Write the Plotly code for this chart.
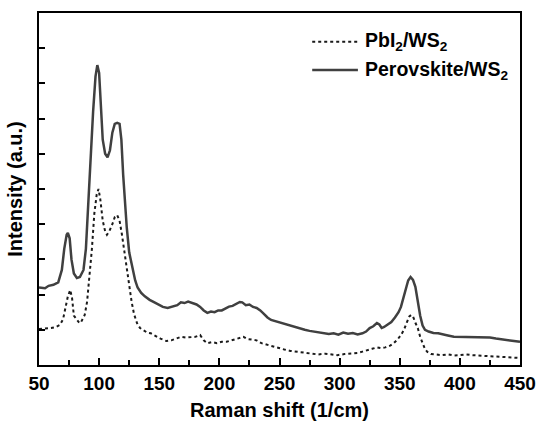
import plotly.graph_objects as go

# Raman shift (1/cm) and intensity (a.u.)
x_pero = [50, 55, 58, 62, 66, 69, 71, 73, 74, 75.5, 77, 79, 81.5, 84, 87, 89, 91, 93, 95, 97, 98.5, 100,
          101.5, 103, 105, 107, 109, 111, 113, 115, 117, 118.5, 120, 121.5, 123, 125, 127.5, 130, 132, 135,
          138, 142, 146, 150, 153, 157, 161, 165, 168, 171, 174, 178, 181, 184, 187, 190, 193, 196, 199,
          202, 205, 208, 211, 214, 217, 219, 222, 225, 228, 231, 234, 237, 240, 243, 247, 251, 255, 259,
          263, 267, 271, 275, 279, 283, 287, 291, 295, 299, 303, 307, 311, 315, 319, 322, 325, 328, 331,
          333, 335, 337, 340, 343, 346, 349, 351, 353, 355, 357, 359, 361, 363, 365, 367, 369, 371, 374,
          378, 382, 386, 390, 395, 400, 405, 410, 415, 420, 425, 430, 435, 440, 445, 450]
y_pero = [2.2, 2.18, 2.25, 2.28, 2.35, 2.7, 3.3, 3.7, 3.75, 3.6, 3.0, 2.6, 2.47, 2.5, 2.7, 3.3, 4.6, 6.0,
          7.2, 8.2, 8.52, 8.3, 7.3, 6.4, 6.0, 5.9, 6.1, 6.6, 6.85, 6.88, 6.85, 6.4, 5.4, 4.6, 3.9, 3.2,
          2.8, 2.4, 2.2, 2.05, 1.95, 1.85, 1.78, 1.7, 1.65, 1.62, 1.65, 1.7, 1.78, 1.76, 1.8, 1.75, 1.72,
          1.65, 1.55, 1.48, 1.52, 1.5, 1.55, 1.55, 1.6, 1.66, 1.68, 1.74, 1.79, 1.78, 1.7, 1.72, 1.65,
          1.62, 1.55, 1.45, 1.35, 1.28, 1.24, 1.2, 1.15, 1.1, 1.08, 1.04, 1.0, 0.97, 0.95, 0.93, 0.9,
          0.88, 0.9, 0.86, 0.92, 0.89, 0.91, 0.87, 0.9, 0.95, 1.05, 1.1, 1.19, 1.15, 1.05, 1.08, 1.15,
          1.22, 1.35, 1.5, 1.65, 1.9, 2.2, 2.4, 2.5, 2.42, 2.22, 1.8, 1.4, 1.12, 1.0, 0.95, 0.91, 0.9,
          0.86, 0.84, 0.8, 0.8, 0.78, 0.8, 0.78, 0.8, 0.78, 0.75, 0.72, 0.7, 0.68, 0.66]

x_pbi2 = [50, 55, 60, 64, 67.5, 70, 72, 74, 76, 77.5, 79, 81, 83, 84.5, 86, 88, 90, 92, 94, 96, 98, 99.5,
          101, 103, 105, 106.5, 108.5, 111, 113, 115, 117, 119, 121, 123, 125, 127, 129, 131.5, 134, 137,
          140, 143, 147, 151, 156, 160, 164, 168, 172, 176, 180, 184, 187, 190, 194, 198, 202, 206, 210,
          214, 218, 220, 223, 227, 231, 235, 240, 244, 249, 254, 259, 264, 270, 276, 282, 288, 294, 298,
          304, 310, 315, 319, 323, 327, 331, 334, 338, 342, 345, 348, 351, 353.5, 356, 358, 359.5, 361,
          363, 365, 367, 369, 371, 373, 376, 380, 385, 390, 395, 400, 405, 410, 415, 420, 425, 430, 435,
          440, 445, 450]
y_pbi2 = [1.02, 1.03, 1.05, 1.08, 1.14, 1.3, 1.6, 1.95, 2.13, 1.9, 1.4, 1.3, 1.22, 1.19, 1.3, 1.42, 1.8,
          2.5, 3.3, 4.3, 4.85, 5.0, 4.7, 4.1, 3.8, 3.7, 3.8, 4.0, 4.2, 4.26, 4.1, 3.7, 3.2, 2.7, 2.2, 1.8,
          1.45, 1.19, 1.05, 0.98, 0.92, 0.9, 0.82, 0.75, 0.68, 0.7, 0.75, 0.8, 0.78, 0.8, 0.8, 0.85, 0.7,
          0.62, 0.65, 0.62, 0.66, 0.66, 0.7, 0.72, 0.78, 0.8, 0.74, 0.72, 0.7, 0.62, 0.57, 0.52, 0.48,
          0.44, 0.4, 0.38, 0.34, 0.32, 0.3, 0.32, 0.29, 0.28, 0.31, 0.33, 0.34, 0.38, 0.43, 0.46, 0.5,
          0.48, 0.5, 0.55, 0.62, 0.72, 0.85, 1.0, 1.22, 1.38, 1.42, 1.38, 1.2, 1.05, 0.8, 0.6, 0.45,
          0.37, 0.31, 0.3, 0.28, 0.3, 0.27, 0.28, 0.3, 0.28, 0.27, 0.28, 0.26, 0.24, 0.23, 0.22, 0.21, 0.2]

x_ticks = [50, 100, 150, 200, 250, 300, 350, 400, 450]
series_names = ["<b>PbI<sub>2</sub>/WS<sub>2</sub></b>", "<b>Perovskite/WS<sub>2</sub></b>"]

FONT = "Liberation Sans, Arial, sans-serif"
COL_DOT = "#1a1a1a"
COL_SOLID = "#404040"

fig = go.Figure()
fig.add_trace(go.Scatter(x=x_pbi2, y=y_pbi2, mode="lines", name=series_names[0],
                         line=dict(color=COL_DOT, width=2, dash="dot")))
fig.add_trace(go.Scatter(x=x_pero, y=y_pero, mode="lines", name=series_names[1],
                         line=dict(color=COL_SOLID, width=2.5)))

# manual legend (longer line samples, as in the reference)
leg_rows = [(0.918, COL_DOT, 2, "dot"), (0.838, COL_SOLID, 2.5, "solid")]
for (yy, col, w, dash), name in zip(leg_rows, series_names):
    fig.add_shape(type="line", xref="paper", yref="paper", x0=0.568, x1=0.663, y0=yy, y1=yy,
                  line=dict(color=col, width=w, dash=dash))
    fig.add_annotation(xref="paper", yref="paper", x=0.674, y=yy, xanchor="left", yanchor="middle",
                       text=name, showarrow=False, font=dict(size=19.5, family=FONT, color="black"))

fig.update_layout(
    width=537, height=423,
    margin=dict(l=39, r=17, t=13, b=58),
    paper_bgcolor="white", plot_bgcolor="white",
    font=dict(family=FONT, color="black"),
    showlegend=False,
)
fig.update_xaxes(range=[50, 450], tickvals=x_ticks, ticktext=[f"<b>{v}</b>" for v in x_ticks],
                 ticks="inside", ticklen=7, tickwidth=2, tickcolor="black",
                 minor=dict(dtick=25, tick0=50, ticks="inside", ticklen=5, tickwidth=2, tickcolor="black"),
                 showline=True, linewidth=2, linecolor="black", mirror=True, showgrid=False, zeroline=False,
                 automargin=False,
                 tickfont=dict(size=19, family=FONT), title=dict(text="<b>Raman shift (1/cm)</b>",
                 font=dict(size=20, family=FONT), standoff=10))
fig.update_yaxes(range=[0, 10], dtick=1, tick0=0, showticklabels=False,
                 ticks="inside", ticklen=6, tickwidth=2, tickcolor="black",
                 showline=True, linewidth=2, linecolor="black", mirror=True, showgrid=False, zeroline=False,
                 automargin=False,
                 title=dict(text="<b>Intensity (a.u.)</b>", font=dict(size=20, family=FONT), standoff=9))

fig.write_html("out.html", config={"displayModeBar": False},
               post_script="document.body.style.margin='0';document.body.style.overflow='hidden';")
